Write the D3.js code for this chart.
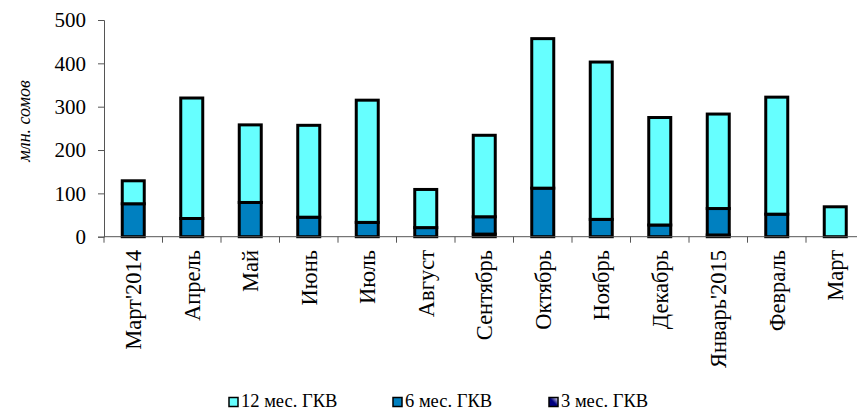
<!DOCTYPE html>
<html>
<head>
<meta charset="utf-8">
<script src="https://cdn.jsdelivr.net/npm/d3@7"></script>
<style>
	body { margin: 0; background: #fff; }
	svg { display: block; }
</style>
</head>
<body>
<svg></svg>
<script>
var months = ["Март'2014", "Апрель", "Май", "Июнь", "Июль", "Август", "Сентябрь",
	"Октябрь", "Ноябрь", "Декабрь", "Январь'2015", "Февраль", "Март"];
var gkv3 = [0, 0, 0, 0, 0, 0, 6, 0, 0, 0, 4, 0, 0];
var gkv6 = [76, 42, 79, 45, 33, 21, 40, 112, 40, 27, 61, 52, 0];
var gkv12 = [53, 278, 179, 212, 282, 88, 188, 345, 363, 248, 218, 270, 69];
var yTicks = [0, 100, 200, 300, 400, 500];
var seriesNames = ["12 мес. ГКВ", "6 мес. ГКВ", "3 мес. ГКВ"];

var serif = "'Liberation Serif', 'Times New Roman', serif";

function main() {
	var width = 857, height = 412;
	var svg = d3.select("svg")
		.attr("width", width)
		.attr("height", height);

	var defs = svg.append("defs");
	var grad = defs.append("linearGradient")
		.attr("id", "g3")
		.attr("x1", "0").attr("y1", "1").attr("x2", "1").attr("y2", "0");
	grad.append("stop").attr("offset", "0").attr("stop-color", "#000080");
	grad.append("stop").attr("offset", "0.5").attr("stop-color", "#000080");
	grad.append("stop").attr("offset", "1").attr("stop-color", "#ffffff");

	var colors = ["#66ffff", "#0080c0", "url(#g3)"];

	var x0 = 104, step = 58.5;
	var xScale = d3.scaleBand()
		.domain(months)
		.range([x0, x0 + step * months.length]);

	var yScale = d3.scaleLinear()
		.domain([0, 500])
		.range([236.7, 20]);

	var data = months.map(function (m, i) {
		return { month: m, g3: gkv3[i], g6: gkv6[i], g12: gkv12[i] };
	});
	var stack = d3.stack().keys(["g3", "g6", "g12"]);
	var layers = stack(data);
	var layerColor = { g3: colors[2], g6: colors[1], g12: colors[0] };

	// axis-y
	var yAxis = svg.append("g")
		.attr("transform", "translate(" + x0 + ",0)")
		.call(d3.axisLeft(yScale).tickValues(yTicks).tickSize(6).tickPadding(12).tickFormat(d3.format("d")));
	yAxis.selectAll("text")
		.style("font-family", serif)
		.style("font-size", "21px")
		.attr("fill", "#000");
	yAxis.selectAll("line, path").attr("stroke", "#555");

	// bars
	var barW = 22;
	var layer = svg.selectAll(".layer")
		.data(layers)
		.enter().append("g")
		.attr("fill", function (d) { return layerColor[d.key]; });

	layer.selectAll("rect")
		.data(function (d) { return d.filter(function (p) { return p[1] - p[0] > 0; }); })
		.enter().append("rect")
		.attr("x", function (d) { return xScale(d.data.month) + xScale.bandwidth() / 2 - barW / 2; })
		.attr("y", function (d) { return yScale(d[1]); })
		.attr("width", barW)
		.attr("height", function (d) { return yScale(d[0]) - yScale(d[1]); })
		.attr("stroke", "#000")
		.attr("stroke-width", 3);

	// axis-x
	svg.append("line")
		.attr("x1", x0).attr("x2", x0 + step * months.length)
		.attr("y1", yScale(0)).attr("y2", yScale(0))
		.attr("stroke", "#555");

	var ticksX = d3.range(months.length + 1).map(function (i) { return x0 + i * step; });
	svg.append("g").selectAll("line")
		.data(ticksX)
		.enter().append("line")
		.attr("x1", function (d) { return d; })
		.attr("x2", function (d) { return d; })
		.attr("y1", yScale(0))
		.attr("y2", yScale(0) + 6)
		.attr("stroke", "#555");

	svg.append("g").selectAll("text")
		.data(months)
		.enter().append("text")
		.attr("transform", function (d) {
			return "translate(" + (xScale(d) + xScale.bandwidth() / 2) + ",250) rotate(-90)";
		})
		.attr("text-anchor", "end")
		.attr("dy", "0.35em")
		.style("font-family", serif)
		.style("font-size", "22.5px")
		.text(function (d) { return d; });

	// y label
	svg.append("text")
		.attr("transform", "translate(25,121) rotate(-90)")
		.attr("text-anchor", "middle")
		.attr("dy", "0.3em")
		.style("font-family", serif)
		.style("font-size", "18px")
		.style("font-style", "italic")
		.text("млн. сомов");

	// legend
	var legendX = [229, 393, 549];
	var leg = svg.append("g").selectAll("g")
		.data(seriesNames)
		.enter().append("g")
		.attr("transform", function (d, i) { return "translate(" + legendX[i] + ",402)"; });
	leg.append("rect")
		.attr("x", 0).attr("y", -4.5)
		.attr("width", 9).attr("height", 9)
		.attr("fill", function (d, i) { return colors[i]; })
		.attr("stroke", "#000")
		.attr("stroke-width", 1.5);
	leg.append("text")
		.attr("x", 12)
		.attr("y", 5)
		.style("font-family", serif)
		.style("font-size", "18.5px")
		.text(function (d) { return d; });
}
main();
</script>
</body>
</html>
